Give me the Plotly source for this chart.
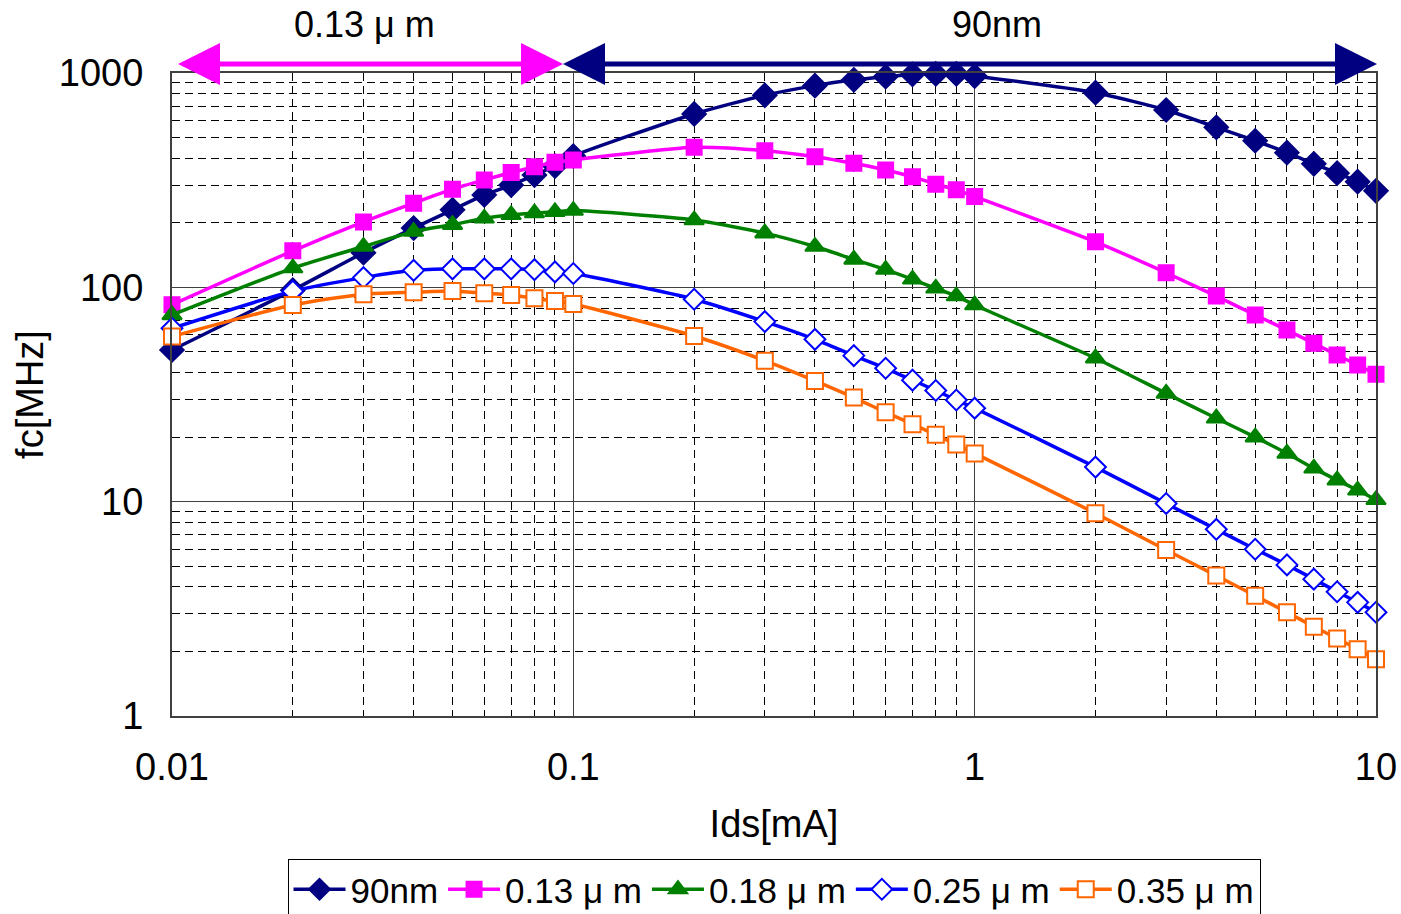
import plotly.graph_objects as go

# ---------------- data ----------------
ids_ma = [0.01, 0.02, 0.03, 0.04, 0.05, 0.06, 0.07, 0.08, 0.09,
          0.1, 0.2, 0.3, 0.4, 0.5, 0.6, 0.7, 0.8, 0.9,
          1, 2, 3, 4, 5, 6, 7, 8, 9, 10]

fc_90nm = [51, 97, 145, 189, 230, 270, 300, 334, 368,
           410, 644, 787, 873, 929, 961, 985, 990, 990,
           968, 809, 672, 558, 483, 425, 377, 341, 311, 282]

fc_013 = [83, 148, 202, 247, 287, 317, 343, 365, 383,
          393, 450, 434, 407, 379, 353, 328, 303, 285,
          265, 163, 117, 91, 74.3, 63.2, 54.8, 48.3, 43.4, 39.3]

fc_018 = [74.3, 123, 155, 182, 196, 210, 218, 222, 225,
          228, 206, 179, 155, 135, 121, 109, 98.9, 91,
          82.7, 46.7, 32, 24.5, 20, 16.8, 14.3, 12.6, 11.3, 10.2]

fc_025 = [64.4, 96, 111, 120, 122, 122, 122, 121, 118,
          116, 88, 69.2, 57.2, 48, 41.9, 36.9, 33, 29.8,
          27.3, 14.5, 9.8, 7.43, 6.0, 5.07, 4.35, 3.80, 3.39, 3.05]

fc_035 = [58.9, 82.7, 92.9, 94.9, 96.2, 93.8, 92.1, 88.9, 86.3,
          83.6, 59.3, 45.5, 36.6, 30.6, 26.1, 23, 20.5, 18.5,
          16.8, 8.83, 5.95, 4.52, 3.64, 3.05, 2.61, 2.30, 2.05, 1.84]

series_names = ["90nm", "0.13 μ m", "0.18 μ m", "0.25 μ m", "0.35 μ m"]
series_values = [fc_90nm, fc_013, fc_018, fc_025, fc_035]

x_tickvals = [0.01, 0.1, 1, 10]
x_ticktext = ["0.01", "0.1", "1", "10"]
x_minor = [0.02, 0.03, 0.04, 0.05, 0.06, 0.07, 0.08, 0.09,
           0.2, 0.3, 0.4, 0.5, 0.6, 0.7, 0.8, 0.9,
           2, 3, 4, 5, 6, 7, 8, 9]
y_tickvals = [1, 10, 100, 1000]
y_ticktext = ["1", "10", "100", "1000"]
y_minor = [2, 3, 4, 5, 6, 7, 8, 9,
           20, 30, 40, 50, 60, 70, 80, 90,
           200, 300, 400, 500, 600, 700, 800, 900]

# ---------------- styles ----------------
styles = [
    dict(color="#000080", symbol="diamond", size=18, fill="#000080"),
    dict(color="#FF00FF", symbol="square", size=15, fill="#FF00FF"),
    dict(color="#008000", symbol="triangle-up", size=17, fill="#008000"),
    dict(color="#0000FF", symbol="diamond", size=16, fill="#FFFFFF"),
    dict(color="#FF6600", symbol="square", size=16, fill="#FFFFFF"),
]

FONT = "Liberation Sans, Arial, sans-serif"

fig = go.Figure()
for name, vals, st in zip(series_names, series_values, styles):
    fig.add_trace(go.Scatter(
        x=ids_ma, y=vals, name=name, mode="lines+markers",
        line=dict(color=st["color"], width=3.5, shape="spline", smoothing=0.6),
        marker=dict(symbol=st["symbol"], size=st["size"], color=st["fill"],
                    line=dict(color=st["color"], width=2)),
        cliponaxis=False,
    ))

W, H = 1401, 914
L, R, T, B = 172, 25, 73, 198
pw, ph = W - L - R, H - T - B


def px(xp):
    return (xp - L) / pw


def py(yp):
    return (H - B - yp) / ph


shapes = []


def arrow(x0, x1, y, color, head=42, half=21):
    shapes.append(dict(type="line", xref="paper", yref="paper",
                       x0=px(x0 + head - 2), x1=px(x1 - head + 2), y0=py(y), y1=py(y),
                       line=dict(color=color, width=5)))
    path_l = (f"M {px(x0)} {py(y)} L {px(x0 + head)} {py(y - half)} "
              f"L {px(x0 + head)} {py(y + half)} Z")
    path_r = (f"M {px(x1)} {py(y)} L {px(x1 - head)} {py(y - half)} "
              f"L {px(x1 - head)} {py(y + half)} Z")
    for p in (path_l, path_r):
        shapes.append(dict(type="path", xref="paper", yref="paper", path=p,
                           fillcolor=color, line=dict(color=color, width=0)))


arrow(178, 563, 64, "#FF00FF")
arrow(563, 1377, 64, "#000080")

annotations = [
    dict(text="0.13 μ m", x=px(364), y=py(25), xref="paper", yref="paper",
         xanchor="center", yanchor="middle",
         showarrow=False, font=dict(size=36, color="black", family=FONT)),
    dict(text="90nm", x=px(997), y=py(25), xref="paper", yref="paper",
         xanchor="center", yanchor="middle",
         showarrow=False, font=dict(size=36, color="black", family=FONT)),
]

axis_common = dict(
    type="log",
    showline=True, linecolor="#404040", linewidth=2, mirror=True,
    showgrid=True, gridcolor="#404040", gridwidth=1,
    ticks="", zeroline=False, automargin=False,
    tickfont=dict(size=38, color="black", family=FONT),
)

fig.update_layout(
    width=W, height=H,
    margin=dict(l=L, r=R, t=T, b=B, pad=0, autoexpand=False),
    paper_bgcolor="white", plot_bgcolor="white",
    font=dict(family=FONT, color="black"),
    xaxis=dict(
        **axis_common,
        range=[-2, 1],
        tickvals=x_tickvals, ticktext=x_ticktext,
        ticklabelstandoff=16,
        minor=dict(tickvals=x_minor, showgrid=True, gridcolor="black",
                   gridwidth=1, griddash="8px,5px", ticks=""),
        title=dict(text="Ids[mA]", font=dict(size=38, family=FONT), standoff=24),
    ),
    yaxis=dict(
        **axis_common,
        range=[0, 3],
        tickvals=y_tickvals, ticktext=y_ticktext,
        ticklabelstandoff=19,
        minor=dict(tickvals=y_minor, showgrid=True, gridcolor="black",
                   gridwidth=1, griddash="8px,5px", ticks=""),
        title=dict(text="fc[MHz]", font=dict(size=38, family=FONT), standoff=4),
    ),
    legend=dict(
        orientation="h", x=0.5, xanchor="center", y=py(859), yanchor="top",
        bordercolor="black", borderwidth=1, bgcolor="white",
        font=dict(size=35, color="black", family=FONT),
        itemwidth=52, tracegroupgap=0,
    ),
    shapes=shapes,
    annotations=annotations,
    showlegend=True,
)

fig.write_html("out.html")
